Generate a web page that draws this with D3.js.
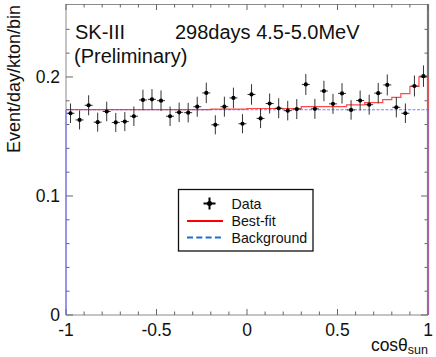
<!DOCTYPE html>
<html><head><meta charset="utf-8">
<script src="https://cdn.jsdelivr.net/npm/d3@7"></script>
<style>html,body{margin:0;padding:0;background:#fff;}svg{display:block;font-family:"Liberation Sans",Arial,sans-serif;}</style>
</head><body><svg id="c" width="436" height="357"></svg>
<script>
// ---- data ----
const binCenters = [-0.975,-0.925,-0.875,-0.825,-0.775,-0.725,-0.675,-0.625,-0.575,-0.525,
  -0.475,-0.425,-0.375,-0.325,-0.275,-0.225,-0.175,-0.125,-0.075,-0.025,
  0.025,0.075,0.125,0.175,0.225,0.275,0.325,0.375,0.425,0.475,
  0.525,0.575,0.625,0.675,0.725,0.775,0.825,0.875,0.925,0.975];
const dataValues = [0.1695,0.1639,0.1762,0.1620,0.1710,0.1618,0.1625,0.1670,0.1807,0.1812,
  0.1801,0.1670,0.1703,0.1700,0.1750,0.1866,0.1598,0.1750,0.1824,0.1607,
  0.1853,0.1652,0.1777,0.1737,0.1717,0.1730,0.1937,0.1732,0.1882,0.1774,
  0.1862,0.1723,0.1802,0.1767,0.1864,0.1933,0.1745,0.1695,0.1924,0.2007];
const dataErrors = [0.0082,0.0080,0.0084,0.0080,0.0082,0.0080,0.0080,0.0082,0.0086,0.0086,
  0.0086,0.0082,0.0082,0.0082,0.0084,0.0086,0.0080,0.0084,0.0086,0.0080,
  0.0086,0.0082,0.0084,0.0084,0.0082,0.0084,0.0088,0.0084,0.0086,0.0084,
  0.0086,0.0082,0.0084,0.0084,0.0086,0.0088,0.0084,0.0082,0.0088,0.0090];
const bestFit = [0.1725,0.1725,0.1725,0.1725,0.1725,0.1725,0.1725,0.1725,0.1725,0.1725,
  0.1725,0.1725,0.1725,0.1725,0.1725,0.1725,0.1730,0.1730,0.1730,0.1730,
  0.1735,0.1735,0.1735,0.1735,0.1735,0.1735,0.1750,0.1750,0.1750,0.1750,
  0.1750,0.1765,0.1765,0.1785,0.1785,0.1810,0.1828,0.1860,0.1920,0.2000];
const background = [0.1725,0.1725,0.1725,0.1725,0.1725,0.1725,0.1725,0.1725,0.1725,0.1725,
  0.1725,0.1725,0.1725,0.1725,0.1725,0.1725,0.1725,0.1725,0.1725,0.1725,
  0.1725,0.1725,0.1725,0.1725,0.1725,0.1725,0.1725,0.1725,0.1725,0.1725,
  0.1725,0.1725,0.1725,0.1725,0.1725,0.1725,0.1725,0.1725,0.1725,0.1725];
const binHalfWidth = 0.025;
const xTickLabels = [-1,-0.5,0,0.5,1];
const yTickLabels = [0,0.1,0.2];
const xMinorTicks = [-1,-0.9,-0.8,-0.7,-0.6,-0.5,-0.4,-0.3,-0.2,-0.1,0,0.1,0.2,0.3,0.4,0.5,0.6,0.7,0.8,0.9,1];
const yMinorTicks = [0,0.02,0.04,0.06,0.08,0.1,0.12,0.14,0.16,0.18,0.2,0.22,0.24];
const legendEntries = ["Data","Best-fit","Background"];

// ---- layout ----
const L=66,R=428,T=4,B=315;
const svg=d3.select("#c");
const x=d3.scaleLinear().domain([-1,1]).range([L,R]);
const y=d3.scaleLinear().domain([0,0.2613]).range([B,T]);
const n=binCenters.length;

// histogram step path (top only)
function stepTop(vals){
  const pts=[];
  vals.forEach((v,i)=>{
    pts.push([x(binCenters[i]-binHalfWidth),y(v)]);
    pts.push([x(binCenters[i]+binHalfWidth),y(v)]);
  });
  return d3.line()(pts);
}

// frame
const axisCol="#8a8a8a";
svg.append("line").attr("x1",L).attr("x2",R).attr("y1",T+0.5).attr("y2",T+0.5).attr("stroke",axisCol).attr("stroke-width",1.2);
svg.append("line").attr("x1",L).attr("x2",R).attr("y1",B).attr("y2",B).attr("stroke",axisCol).attr("stroke-width",1);
svg.append("line").attr("x1",L).attr("x2",L).attr("y1",T).attr("y2",B).attr("stroke",axisCol).attr("stroke-width",1);
svg.append("line").attr("x1",R).attr("x2",R).attr("y1",T).attr("y2",B).attr("stroke","#777").attr("stroke-width",2.2);

// ticks
const g=svg.append("g").attr("stroke","#666").attr("stroke-width",1);
xMinorTicks.forEach(t=>{
  const major = xTickLabels.includes(t);
  const len = major?6:3.5;
  g.append("line").attr("x1",x(t)).attr("x2",x(t)).attr("y1",B).attr("y2",B-len);
  g.append("line").attr("x1",x(t)).attr("x2",x(t)).attr("y1",T).attr("y2",T+len);
});
yMinorTicks.forEach(t=>{
  const major = yTickLabels.includes(t);
  const len = major?7:3.5;
  g.append("line").attr("x1",L).attr("x2",L+len).attr("y1",y(t)).attr("y2",y(t));
  g.append("line").attr("x1",R).attr("x2",R-len).attr("y1",y(t)).attr("y2",y(t));
});

// labels
svg.selectAll(".xl").data(xTickLabels).enter().append("text")
  .attr("x",d=>x(d)).attr("y",336).attr("text-anchor","middle")
  .attr("font-size",17.5).attr("fill","#111").text(d=>String(d));
svg.selectAll(".yl").data(yTickLabels).enter().append("text")
  .attr("x",60).attr("y",d=>y(d)+6).attr("text-anchor","end")
  .attr("font-size",17.5).attr("fill","#111").text(d=>String(d));
svg.append("text").attr("transform","translate(20,5) rotate(-90)")
  .attr("text-anchor","end").attr("font-size",18).attr("fill","#111").text("Event/day/kton/bin");
const xt=svg.append("text").attr("x",428).attr("y",351).attr("text-anchor","end").attr("font-size",17.5).attr("fill","#111");
xt.append("tspan").text("cos\u03B8");
xt.append("tspan").attr("font-size",12.5).attr("dy",3).text("sun");

svg.append("text").attr("x",75).attr("y",39).attr("font-size",20).attr("fill","#111").text("SK-III");
svg.append("text").attr("x",175).attr("y",39).attr("font-size",20).attr("fill","#111").text("298days 4.5-5.0MeV");
svg.append("text").attr("x",74).attr("y",63).attr("font-size",20).attr("fill","#111").text("(Preliminary)");

// best fit
svg.append("path").attr("d",stepTop(bestFit)).attr("fill","none").attr("stroke","#ff4a4a").attr("stroke-width",1.2);
svg.append("line").attr("x1",x(binCenters[n-1]+binHalfWidth)).attr("x2",x(binCenters[n-1]+binHalfWidth))
  .attr("y1",y(bestFit[n-1])).attr("y2",y(0)).attr("stroke","#ff4a4a").attr("stroke-width",1.4);
// background
svg.append("path").attr("d",stepTop(background)).attr("fill","none").attr("stroke","#5050ff").attr("stroke-opacity",0.75).attr("stroke-width",1.1).attr("stroke-dasharray","3,1.5");
svg.append("line").attr("x1",x(binCenters[0]-binHalfWidth)).attr("x2",x(binCenters[0]-binHalfWidth))
  .attr("y1",y(background[0])).attr("y2",y(0)).attr("stroke","#7070ff").attr("stroke-width",1.1);
svg.append("line").attr("x1",x(binCenters[n-1]+binHalfWidth)).attr("x2",x(binCenters[n-1]+binHalfWidth))
  .attr("y1",y(background[n-1])).attr("y2",y(0)).attr("stroke","#7070ff").attr("stroke-opacity",0.8).attr("stroke-width",1.2);

// data points
const pg=svg.append("g");
binCenters.forEach((c,i)=>{
  pg.append("line").attr("x1",x(c)).attr("x2",x(c)).attr("y1",y(dataValues[i]-dataErrors[i])).attr("y2",y(dataValues[i]+dataErrors[i])).attr("stroke","#333").attr("stroke-width",1);
  pg.append("line").attr("x1",x(c-0.022)).attr("x2",x(c+0.022)).attr("y1",y(dataValues[i])).attr("y2",y(dataValues[i])).attr("stroke","#333").attr("stroke-width",1);
  pg.append("circle").attr("cx",x(c)).attr("cy",y(dataValues[i])).attr("r",2.1).attr("fill","#000");
});

// legend
const lg=svg.append("g");
lg.append("rect").attr("x",178.5).attr("y",189.5).attr("width",134.5).attr("height",61.5).attr("fill","#fff").attr("stroke","#111").attr("stroke-width",1.3);
const ly=[203.5,221,237.5];
lg.selectAll("text").data(legendEntries).enter().append("text")
  .attr("x",231.5).attr("y",(d,i)=>ly[i]+5).attr("font-size",14.2).attr("fill","#111").text(d=>d);
lg.append("line").attr("x1",209.5).attr("x2",209.5).attr("y1",ly[0]-6).attr("y2",ly[0]+6).attr("stroke","#000").attr("stroke-width",2);
lg.append("line").attr("x1",203.5).attr("x2",215.5).attr("y1",ly[0]).attr("y2",ly[0]).attr("stroke","#000").attr("stroke-width",2);
lg.append("circle").attr("cx",209.5).attr("cy",ly[0]).attr("r",2.5).attr("fill","#000");
lg.append("line").attr("x1",187).attr("x2",223).attr("y1",ly[1]).attr("y2",ly[1]).attr("stroke","#ff0000").attr("stroke-width",2);
lg.append("line").attr("x1",187).attr("x2",223).attr("y1",ly[2]).attr("y2",ly[2]).attr("stroke","#1c6fd0").attr("stroke-width",2).attr("stroke-dasharray","6,3.3");
</script></body></html>
